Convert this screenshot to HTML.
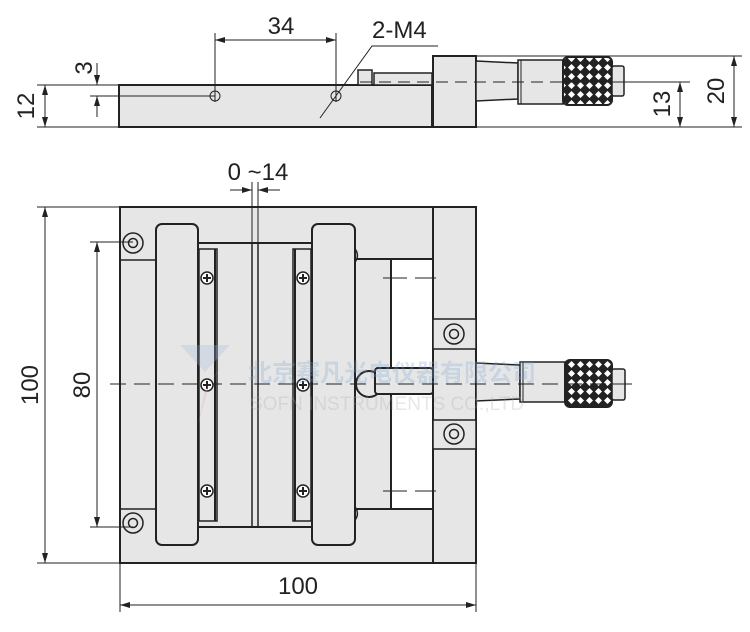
<!DOCTYPE html>
<html><head><meta charset="utf-8"><style>
html,body{margin:0;padding:0;background:#fff;}
svg{display:block;}
text{font-family:"Liberation Sans","Noto Sans CJK SC",sans-serif;fill:#222;}
</style></head><body>
<svg width="750" height="632" viewBox="0 0 750 632" xmlns="http://www.w3.org/2000/svg">
<defs>
<marker id="a" viewBox="0 0 10 6" refX="10" refY="3" markerWidth="10" markerHeight="6" orient="auto-start-reverse" markerUnits="userSpaceOnUse"><path d="M0,0 L10,3 L0,6 z" fill="#222"/></marker>
<pattern id="k" width="9" height="9" patternUnits="userSpaceOnUse"><rect width="9" height="9" fill="#222"/><path d="M4.5,1 L8,4.5 L4.5,8 L1,4.5 z" fill="#fff"/></pattern>
</defs>
<g stroke="#222" stroke-width="1" fill="none">
<!-- ===== TOP VIEW ===== -->
<rect x="119" y="85" width="313" height="42" fill="#e6e6e6" stroke-width="2"/>
<rect x="358" y="70" width="14" height="15" fill="#e6e6e6" stroke-width="1.5"/>
<rect x="374" y="73" width="58" height="12" fill="#e6e6e6" stroke-width="1.5"/>
<rect x="433" y="56" width="43" height="71" fill="#e6e6e6" stroke-width="2"/>
<path d="M476,61 L518,63 L518,99 L476,101 Z" fill="#e6e6e6" stroke-width="1.5"/>
<rect x="518" y="60" width="45" height="44" fill="#e6e6e6" stroke-width="1.5"/>
<line x1="521" y1="60" x2="521" y2="104"/>
<rect x="563" y="57" width="49" height="48" rx="5" fill="url(#k)" stroke-width="2"/>
<rect x="612" y="66" width="12" height="30" rx="2" fill="#e6e6e6" stroke-width="1.5"/>
<line x1="360" y1="82" x2="600" y2="82" stroke-dasharray="12,7"/>
<line x1="600" y1="82" x2="690" y2="82"/>
<circle cx="215" cy="96" r="5"/><circle cx="336" cy="96" r="5"/>
<line x1="90" y1="96" x2="215" y2="96"/>
<line x1="215" y1="33" x2="215" y2="102"/>
<line x1="336" y1="33" x2="336" y2="102"/>
<line x1="215" y1="40" x2="336" y2="40" marker-start="url(#a)" marker-end="url(#a)"/>
<polyline points="438,46 372,46 320,118"/>
<!-- left dims -->
<line x1="37" y1="85" x2="119" y2="85"/>
<line x1="37" y1="127" x2="119" y2="127"/>
<line x1="45" y1="85" x2="45" y2="127" marker-start="url(#a)" marker-end="url(#a)"/>
<line x1="97" y1="63" x2="97" y2="85" marker-end="url(#a)"/>
<line x1="97" y1="117" x2="97" y2="96" marker-end="url(#a)"/>
<!-- right dims -->
<line x1="476" y1="56" x2="742" y2="56"/>
<line x1="476" y1="127" x2="742" y2="127"/>
<line x1="680" y1="82" x2="680" y2="127" marker-start="url(#a)" marker-end="url(#a)"/>
<line x1="734" y1="56" x2="734" y2="127" marker-start="url(#a)" marker-end="url(#a)"/>

<!-- ===== PLAN VIEW ===== -->
<rect x="120" y="207" width="356" height="356" fill="#e6e6e6" stroke-width="2"/>
<line x1="433" y1="207" x2="433" y2="563" stroke-width="2"/>
<line x1="120" y1="260" x2="156" y2="260" stroke-width="1.5"/>
<line x1="120" y1="509" x2="156" y2="509" stroke-width="1.5"/>
<!-- carriage -->
<rect x="198" y="243" width="114" height="284" fill="#e6e6e6" stroke-width="2"/>
<line x1="252" y1="243" x2="252" y2="527" stroke-width="1.5"/>
<line x1="258" y1="243" x2="258" y2="527" stroke-width="1.5"/>
<rect x="199" y="249" width="18" height="272" fill="#e6e6e6" stroke-width="1.5"/>
<line x1="215" y1="249" x2="215" y2="521" stroke-width="2"/>
<rect x="293" y="249" width="18" height="272" fill="#e6e6e6" stroke-width="1.5"/>
<line x1="295" y1="249" x2="295" y2="521" stroke-width="2"/>
<!-- stage right part -->
<rect x="355" y="259" width="78" height="250" fill="#e6e6e6" stroke-width="2"/>
<rect x="391" y="259" width="42" height="250" fill="#fff" stroke-width="2"/>
<line x1="383" y1="278" x2="436" y2="278" stroke-dasharray="24,8"/>
<line x1="383" y1="491" x2="436" y2="491" stroke-dasharray="24,8"/>
<path d="M355,249 A10,10 0 0 1 355,262" fill="#e6e6e6" stroke-width="1.5"/>
<path d="M355,507 A10,10 0 0 1 355,520" fill="#e6e6e6" stroke-width="1.5"/>
<!-- grips -->
<rect x="156" y="224" width="42" height="321" rx="6" fill="#e6e6e6" stroke-width="2"/>
<rect x="312" y="224" width="43" height="321" rx="6" fill="#e6e6e6" stroke-width="2"/>
<!-- column blocks -->
<rect x="433" y="319" width="43" height="30" fill="#e6e6e6" stroke-width="1.5"/>
<rect x="433" y="420" width="43" height="29" fill="#e6e6e6" stroke-width="1.5"/>
<!-- ball + rod -->
<circle cx="369" cy="384" r="13" fill="#e6e6e6" stroke-width="2"/>
<rect x="375" y="368" width="58" height="26" rx="3" fill="#e6e6e6" stroke-width="2"/>
<!-- micrometer -->
<path d="M476,363 L520,365 L520,399 L476,401 Z" fill="#e6e6e6" stroke-width="1.5"/>
<rect x="520" y="362" width="45" height="40" fill="#e6e6e6" stroke-width="1.5"/>
<line x1="523" y1="362" x2="523" y2="402"/>
<rect x="565" y="360" width="47" height="47" rx="5" fill="url(#k)" stroke-width="2"/>
<rect x="612" y="369" width="13" height="31" rx="2" fill="#e6e6e6" stroke-width="1.5"/>
<!-- centerline -->
<line x1="110" y1="384" x2="610" y2="384" stroke-dasharray="16,8"/>
<line x1="610" y1="384" x2="632" y2="384"/>
<!-- screws -->
<g fill="#e6e6e6" stroke-width="1.5">
<circle cx="133" cy="243" r="10"/><circle cx="133" cy="243" r="4.5"/>
<circle cx="133" cy="523" r="10"/><circle cx="133" cy="523" r="4.5"/>
<circle cx="454" cy="334" r="10"/><circle cx="454" cy="334" r="4.5"/>
<circle cx="454" cy="434" r="10"/><circle cx="454" cy="434" r="4.5"/>
</g>
<g stroke-width="1.5" fill="#fff">
<circle cx="207" cy="278" r="6"/><circle cx="207" cy="385" r="6"/><circle cx="207" cy="491" r="6"/>
<circle cx="303" cy="278" r="6"/><circle cx="303" cy="385" r="6"/><circle cx="303" cy="491" r="6"/>
</g>
<g stroke-width="2">
<path d="M203,278h8M207,274v8M203,385h8M207,381v8M203,491h8M207,487v8"/>
<path d="M299,278h8M303,274v8M299,385h8M303,381v8M299,491h8M303,487v8"/>
</g>
<!-- plan dims -->
<line x1="90" y1="242" x2="133" y2="242"/>
<line x1="90" y1="527" x2="133" y2="527"/>
<line x1="97" y1="242" x2="97" y2="527" marker-start="url(#a)" marker-end="url(#a)"/>
<line x1="37" y1="207" x2="120" y2="207"/>
<line x1="37" y1="563" x2="120" y2="563"/>
<line x1="45" y1="207" x2="45" y2="563" marker-start="url(#a)" marker-end="url(#a)"/>
<line x1="120" y1="563" x2="120" y2="612"/>
<line x1="476" y1="563" x2="476" y2="612"/>
<line x1="120" y1="605" x2="476" y2="605" marker-start="url(#a)" marker-end="url(#a)"/>
<line x1="252" y1="182" x2="252" y2="243"/>
<line x1="258" y1="182" x2="258" y2="243"/>
<line x1="230" y1="190" x2="252" y2="190" marker-end="url(#a)"/>
<line x1="280" y1="190" x2="258" y2="190" marker-end="url(#a)"/>
</g>
<!-- watermark -->
<g opacity="0.28">
<path d="M180,345 L230,345 L205,372 Z" fill="#9fb8d8"/>
<path d="M237,345 L210,382 L198,425 L205,390 Z" fill="#e8a0a0"/>
<text x="248" y="381" font-size="24" font-weight="bold" style="fill:#7fa6d6">北京赛凡光电仪器有限公司</text>
<text x="250" y="410" font-size="19" style="fill:#aaa">SOFN INSTRUMENTS CO.,LTD</text>
</g>
<!-- labels -->
<g font-size="24">
<text x="281" y="34" text-anchor="middle">34</text>
<text x="372" y="38">2-M4</text>
<text x="258" y="180" text-anchor="middle">0 ~14</text>
<text x="298" y="594" text-anchor="middle">100</text>
<text transform="translate(92,68) rotate(-90)" text-anchor="middle">3</text>
<text transform="translate(34,106) rotate(-90)" text-anchor="middle">12</text>
<text transform="translate(670,104) rotate(-90)" text-anchor="middle">13</text>
<text transform="translate(724,91) rotate(-90)" text-anchor="middle">20</text>
<text transform="translate(38,385) rotate(-90)" text-anchor="middle">100</text>
<text transform="translate(90,385) rotate(-90)" text-anchor="middle">80</text>
</g>
</svg>
</body></html>
